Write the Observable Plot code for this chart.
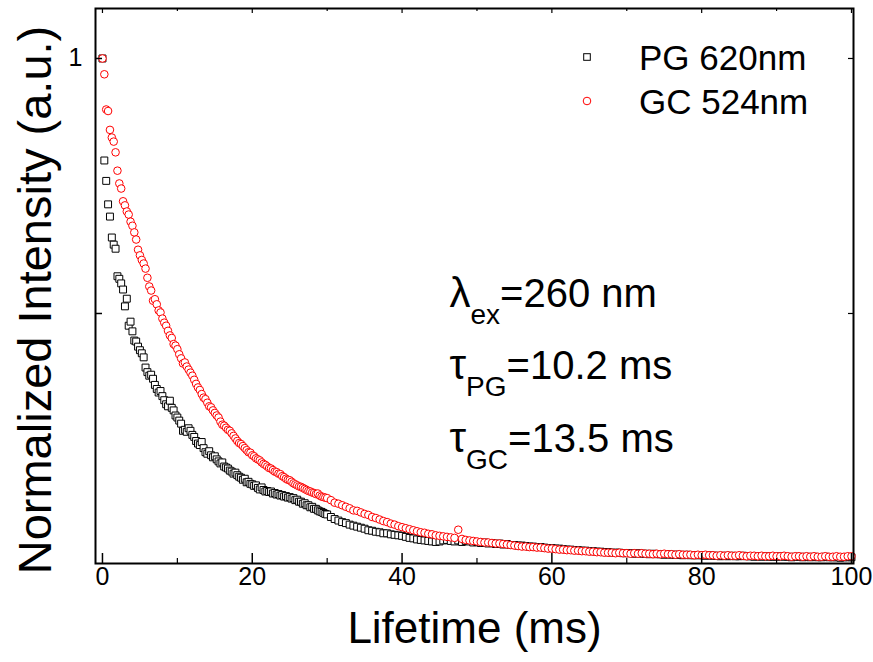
<!DOCTYPE html>
<html>
<head>
<meta charset="utf-8">
<script src="https://cdn.jsdelivr.net/npm/d3@7"></script>
<script src="https://cdn.jsdelivr.net/npm/@observablehq/plot@0.6"></script>
<style>
  html, body { margin: 0; padding: 0; background: #fff; }
  #chart { width: 873px; height: 662px; }
</style>
</head>
<body>
<div id="chart"></div>
<script>
// ---- Data ----
// Sampling grid of the decay measurement (ms)
const tEarly = d3.range(0, 30, 0.25);      // 0 … 29.75
const tLate  = d3.range(30, 100.001, 0.5); // 30 … 100

// PG 620nm (black squares), normalized intensity
const pgEarly = [
  1.000,.800,.760,.714,.690,.649,.635,.627,.573,.568,.559,.547,.514,.529,.476,.484,.465,.447,.445,.435,
  .428,.422,.414,.394,.385,.378,.380,.372,.360,.352,.345,.348,.338,.330,.322,.318,.329,.315,.310,.300,
  .296,.290,.284,.270,.272,.268,.275,.270,.262,.258,.250,.245,.242,.248,.236,.228,.225,.230,.222,.218,
  .220,.214,.210,.206,.208,.200,.198,.196,.192,.190,.186,.188,.183,.180,.178,.174,.176,.169,.170,.166,
  .165,.162,.163,.158,.155,.159,.154,.151,.152,.150,.151,.147,.148,.145,.146,.143,.144,.141,.142,.139,
  .140,.137,.138,.134,.135,.131,.131,.127,.128,.124,.124,.120,.121,.117,.117,.114,.112,.111,.109,.107
];
const pgLate = [
  .106,.101,.097,.094,.091,.089,.086,.084,.082,.080,.078,.075,.074,.072,.071,.069,.069,.067,.066,.065,
  .064,.062,.060,.059,.057,.056,.055,.054,.053,.052,.053,.055,.056,.054,.053,.055,.052,.054,.053,.051,
  .052,.050,.051,.049,.050,.048,.049,.047,.048,.046,.046,.045,.045,.044,.043,.043,.042,.042,.041,.040,
  .040,.039,.039,.038,.037,.037,.036,.036,.035,.035,.034,.034,.033,.033,.032,.032,.031,.031,.031,.030,
  .030,.030,.029,.030,.029,.029,.028,.029,.028,.028,.027,.028,.027,.027,.027,.026,.027,.026,.026,.026,
  .026,.025,.026,.025,.025,.024,.025,.024,.025,.024,.024,.025,.024,.024,.023,.024,.023,.024,.023,.023,
  .023,.024,.023,.023,.022,.023,.023,.022,.023,.022,.023,.022,.022,.023,.022,.022,.022,.021,.022,.022,
  .022
];

// GC 524nm (red circles), normalized intensity
const gcEarly = [
  1.000,.969,.900,.897,.860,.845,.837,.816,.780,.755,.745,.720,.712,.700,.694,.680,.672,.659,.645,.625,
  .614,.605,.598,.588,.570,.553,.545,.525,.528,.518,.506,.502,.490,.482,.476,.466,.457,.452,.440,.437,
  .430,.420,.412,.402,.404,.396,.390,.384,.378,.370,.362,.355,.350,.342,.335,.332,.325,.318,.316,.310,
  .305,.300,.296,.288,.282,.280,.276,.272,.270,.265,.260,.255,.250,.246,.244,.240,.236,.232,.228,.227,
  .222,.220,.216,.214,.212,.208,.205,.203,.200,.197,.196,.193,.190,.189,.186,.185,.181,.179,.176,.174,
  .173,.170,.167,.165,.163,.161,.160,.158,.156,.154,.152,.151,.149,.148,.146,.147,.143,.141,.140,.139
];
const gcLate = [
  .138,.134,.129,.127,.124,.121,.118,.114,.113,.110,.107,.105,.101,.099,.096,.093,.091,.088,.086,.083,
  .081,.079,.077,.075,.073,.071,.070,.068,.067,.065,.064,.063,.062,.061,.060,.076,.058,.056,.055,.054,
  .053,.052,.051,.051,.050,.049,.049,.048,.047,.046,.045,.044,.043,.043,.042,.042,.041,.041,.040,.039,
  .039,.038,.037,.037,.036,.036,.035,.035,.034,.034,.033,.033,.032,.032,.031,.031,.031,.030,.031,.030,
  .030,.029,.030,.029,.030,.029,.029,.028,.029,.028,.029,.028,.028,.027,.028,.027,.027,.027,.026,.027,
  .026,.027,.026,.026,.025,.026,.025,.026,.025,.025,.026,.025,.024,.025,.025,.024,.025,.024,.024,.025,
  .024,.024,.025,.024,.023,.024,.024,.023,.024,.023,.024,.023,.023,.024,.023,.023,.024,.023,.023,.024,
  .024
];

// Axis ticks and labels
const xTicks = [0, 20, 40, 60, 80, 100];
const xMinorTicks = [10, 30, 50, 70, 90];
const yTicks = [0.5, 1];
const yLabelledTicks = [1];

const seriesNames = ["PG 620nm", "GC 524nm"];
const seriesColors = ["#000000", "#ff0000"];
const xTitle = "Lifetime (ms)";
const yTitle = "Normalized Intensity (a.u.)";
const annotations = [
  {main: "λ", sub: "ex", rest: "=260 nm"},
  {main: "τ", sub: "PG", rest: "=10.2 ms"},
  {main: "τ", sub: "GC", rest: "=13.5 ms"}
];

// ---- Build tables ----
const makeRows = (early, late) =>
  tEarly.map((t, i) => ({t, v: early[i]})).concat(tLate.map((t, i) => ({t, v: late[i]})));
const pg = makeRows(pgEarly, pgLate);
const gc = makeRows(gcEarly, gcLate);

// ---- Layout ----
const W = 873, H = 662;
const mL = 95, mR = 20, mT = 8, mB = 99;
const innerW = W - mL - mR, innerH = H - mT - mB;
const FONT = "'Liberation Sans', Arial, Helvetica, sans-serif";

const plot = Plot.plot({
  width: W, height: H,
  marginLeft: mL, marginRight: mR, marginTop: mT, marginBottom: mB,
  style: {fontFamily: FONT, background: "#fff", color: "#000", overflow: "visible"},
  x: {domain: [-0.93, 100.27], axis: null},
  y: {domain: [0.0098, 1.098], axis: null},
  marks: [
    Plot.dot(pg, {x: "t", y: "v", symbol: "square", r: 3.9, stroke: seriesColors[0], fill: "#fff", strokeWidth: 1}),
    Plot.dot(gc, {x: "t", y: "v", symbol: "circle", r: 3.8, stroke: seriesColors[1], fill: "#fff", strokeWidth: 1}),
    // inward tick marks
    Plot.ruleX(xTicks, {x: d => d, insetTop: innerH - 10, stroke: "#000", strokeWidth: 1.5}),
    Plot.ruleX(xMinorTicks, {x: d => d, insetTop: innerH - 5, stroke: "#000", strokeWidth: 1.2}),
    Plot.ruleX(xTicks, {x: d => d, insetBottom: innerH - 5, stroke: "#000", strokeWidth: 1.2}),
    Plot.ruleX(xMinorTicks, {x: d => d, insetBottom: innerH - 3, stroke: "#000", strokeWidth: 1.2}),
    Plot.ruleY(yTicks, {y: d => d, insetRight: innerW - 7, stroke: "#000", strokeWidth: 1.5}),
    Plot.ruleY(yTicks, {y: d => d, insetLeft: innerW - 5, stroke: "#000", strokeWidth: 1.2}),
    Plot.frame({stroke: "#000", strokeWidth: 2}),
    // tick labels
    Plot.text(xTicks, {x: d => d, text: d => String(d), frameAnchor: "bottom", dy: 21, fontSize: 25}),
    Plot.text(yLabelledTicks, {y: d => d, text: d => String(d), frameAnchor: "left", textAnchor: "end", dx: -13, fontSize: 25}),
    // axis titles
    Plot.text([xTitle], {text: d => d, frameAnchor: "bottom", textAnchor: "middle", dy: 79, fontSize: 44}),
    Plot.text([yTitle], {text: d => d, frameAnchor: "left", textAnchor: "middle", rotate: -90, dx: -60, dy: 14, fontSize: 47})
  ]
});

document.getElementById("chart").appendChild(plot);
const svg = d3.select(plot);

// ---- Annotation text with subscripts (positioned through the plot's scales) ----
const sx = plot.scale("x"), sy = plot.scale("y");
const annX = sx.apply(46.4), annY0 = sy.apply(0.512);
annotations.forEach((a, i) => {
  const txt = svg.append("text")
    .attr("x", annX).attr("y", annY0 + i * 72.5)
    .attr("text-anchor", "start")
    .attr("font-family", FONT).attr("font-size", 40).attr("fill", "#000");
  txt.append("tspan").attr("font-size", 42).text(a.main);
  txt.append("tspan").attr("font-size", 28).attr("dy", 17).text(a.sub);
  txt.append("tspan").attr("dy", -17).text(a.rest);
});

// ---- Legend ----
const lg = svg.append("g").attr("font-family", FONT).attr("text-anchor", "start");
const legX = 587, legY = [57, 101], legTextX = 639;
lg.append("rect").attr("x", legX - 3.3).attr("y", legY[0] - 3.3).attr("width", 6.6).attr("height", 6.6)
  .attr("fill", "#fff").attr("stroke", seriesColors[0]).attr("stroke-width", 1);
lg.append("circle").attr("cx", legX).attr("cy", legY[1]).attr("r", 3.8)
  .attr("fill", "#fff").attr("stroke", seriesColors[1]).attr("stroke-width", 1);
seriesNames.forEach((n, i) => {
  lg.append("text").attr("x", legTextX).attr("y", legY[i] + 12.5)
    .attr("text-anchor", "start")
    .attr("font-size", 35).attr("fill", "#000").text(n);
});
</script>
</body>
</html>
